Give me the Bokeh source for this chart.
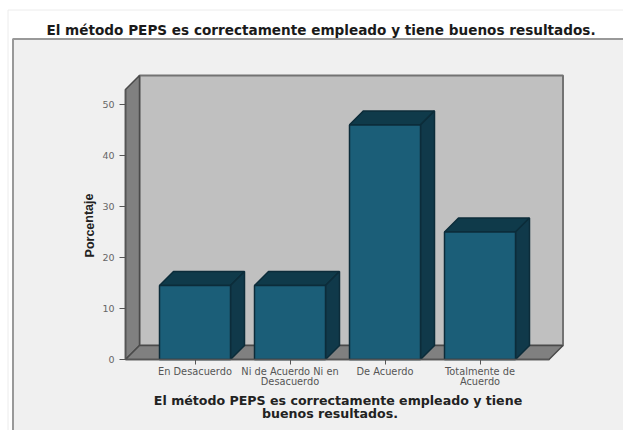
from bokeh.plotting import figure
from bokeh.embed import file_html
from bokeh.resources import INLINE
from bokeh.models import Range1d, FixedTicker, Label

categories = ["En Desacuerdo", "Ni de Acuerdo Ni en", "De Acuerdo", "Totalmente de"]
categories_line2 = ["", "Desacuerdo", "", "Acuerdo"]
values = [14.5, 14.5, 46.0, 25.0]
y_ticks = [0, 10, 20, 30, 40, 50]
title_text = "El método PEPS es correctamente empleado y tiene buenos resultados."
x_label_lines = ["El método PEPS es correctamente empleado y tiene", "buenos resultados."]
y_label = "Porcentaje"

FONT = "DejaVu Sans"
W, H = 623, 430
PX_X = 95.0   # px per category
PX_Y = 5.1    # px per percent
DX = 14 / PX_X
DY = 14 / PX_Y
BAR = 71 / PX_X
X0 = 1 - 69.5 / PX_X
X_WALL = 1 + 354 / PX_X
Y_WALL = 270 / PX_Y

p = figure(width=W, height=H, output_backend="svg", toolbar_location=None,
           x_range=Range1d(1 - 194.5 / PX_X, 1 + 428.5 / PX_X), y_range=Range1d(-71 / PX_Y, 359 / PX_Y),
           min_border_left=0, min_border_right=0, min_border_top=0, min_border_bottom=0,
           background_fill_color="white", outline_line_color=None, border_fill_color="white")
p.grid.visible = False

# outer frames of the page
px = lambda v: 1 + (v - 194.5) / PX_X
py = lambda v: (359 - v) / PX_Y
p.quad(left=px(7.5), right=px(640), top=py(9.5), bottom=py(450), fill_color="white",
       line_color="#ececec", line_width=1)
p.quad(left=px(12.5), right=px(640), top=py(38.5), bottom=py(450), fill_color="#f0f0f0",
       line_color="#999999", line_width=2)

WALL_LINE = "#4a4a4a"
p.patch([X0 + DX, X_WALL + DX, X_WALL + DX, X0 + DX], [DY, DY, Y_WALL + DY, Y_WALL + DY],
        fill_color="#c0c0c0", line_color="#737373", line_width=2)
p.patch([X0, X0 + DX, X0 + DX, X0], [0, DY, Y_WALL + DY, Y_WALL],
        fill_color="#808080", line_color=WALL_LINE, line_width=1.5)
p.patch([X0, X0 + DX, X_WALL + DX, X_WALL], [0, DY, DY, 0],
        fill_color="#808080", line_color=WALL_LINE, line_width=1.5)

xs = list(range(1, len(values) + 1))
lefts = [x - BAR / 2 for x in xs]
rights = [x + BAR / 2 for x in xs]
OUT = "#0c2c3a"
p.patches([[l, l + DX, r + DX, r] for l, r in zip(lefts, rights)],
          [[v, v + DY, v + DY, v] for v in values],
          fill_color="#0f3a4a", line_color=OUT, line_width=1.5)
p.patches([[r, r + DX, r + DX, r] for r in rights],
          [[0, DY, v + DY, v] for v in values],
          fill_color="#10394a", line_color=OUT, line_width=1.5)
p.quad(left=lefts, right=rights, bottom=0, top=values,
       fill_color="#1b5e78", line_color=OUT, line_width=1.5)

ax = p.yaxis[0]
ax.fixed_location = X0
ax.bounds = (0, Y_WALL)
ax.ticker = FixedTicker(ticks=y_ticks)
ax.major_label_text_font = FONT
ax.major_label_text_font_size = "9.5px"
ax.major_label_text_color = "#666666"
ax.axis_line_color = "#555555"
ax.axis_line_width = 1.5
ax.major_tick_line_color = "#555555"
ax.major_tick_out = 6
ax.major_tick_in = 0
ax.minor_tick_line_color = None

bx = p.xaxis[0]
bx.fixed_location = 0
bx.bounds = (X0, X_WALL)
bx.ticker = FixedTicker(ticks=xs)
bx.major_label_overrides = dict(zip(xs, categories))
bx.major_label_text_font = FONT
bx.major_label_text_font_size = "9.8px"
bx.major_label_text_color = "#555555"
bx.major_label_standoff = 1
bx.axis_line_color = "#555555"
bx.axis_line_width = 1.5
bx.major_tick_line_color = "#555555"
bx.major_tick_out = 5
bx.major_tick_in = 0
bx.minor_tick_line_color = None

def screen_label(cx, cy, txt, **kw):
    p.add_layout(Label(x=cx, y=H - cy, x_units="screen", y_units="screen", text=txt,
                       text_align="center", text_baseline="middle", **kw))

for x, txt in zip(xs, categories_line2):
    if txt:
        p.add_layout(Label(x=x, y=H - 381, x_units="data", y_units="screen", text=txt, text_font=FONT,
                           text_font_size="9.8px", text_color="#555555", text_align="center",
                           text_baseline="middle"))

for cx, cy, txt in zip([337.5, 329.5], [400, 413], x_label_lines):
    screen_label(cx, cy, txt, text_font=FONT, text_font_style="bold", text_font_size="12.6px", text_color="#222222")

screen_label(89, 225, y_label, text_font="Liberation Sans", text_font_style="bold", text_font_size="12.5px",
             text_color="#222222", angle=1.5708)
screen_label(320.5, 29, title_text, text_font=FONT, text_font_style="bold", text_font_size="13.6px", text_color="#1a1a1a")

open("out.html", "w").write(file_html(p, INLINE))
